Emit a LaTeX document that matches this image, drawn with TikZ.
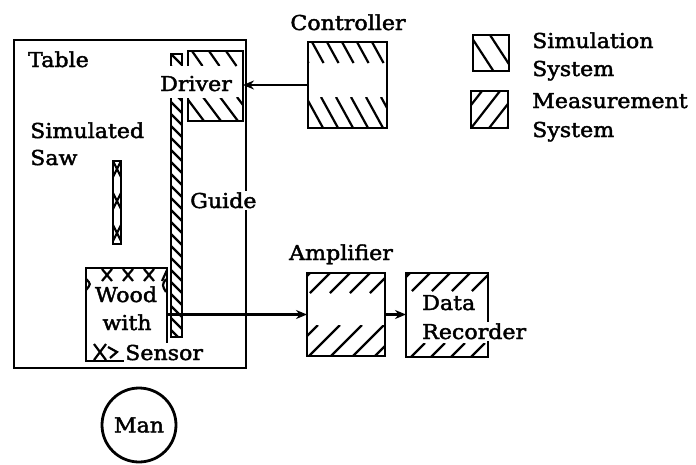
\documentclass[tikz,border=0pt]{standalone}
\usepackage{fontspec}
\setmainfont{DejaVu Serif}[FakeStretch=1.08,FakeBold=2]
\usetikzlibrary{arrows.meta}
\newcommand\myhatch[7]{%
  \begin{scope}
    \clip (#1,#2) rectangle (#3,#4);
    \foreach \k in {-30,...,30}
      \draw[hatchline] ({#7+\k*#6},#2) -- ++({#5*(#4-#2)},{#4-#2});
  \end{scope}}
\begin{document}
\begin{tikzpicture}[x=1pt,y=-1pt,
  box/.style={draw,line width=2.8pt,inner sep=0pt,outer sep=0pt},
  hatchline/.style={line width=2.2pt},
  lbl/.style={font=\fontsize{20.5}{24}\selectfont,inner sep=0pt},
  wlbl/.style={lbl,fill=white,inner sep=1.5pt},
  arr/.style={line width=2.2pt,-{Stealth[length=11pt,width=9pt]}}]
\useasboundingbox[fill=white] (0,0) rectangle (696,464);

% table
\node[box,minimum width=232pt,minimum height=328pt] (table) at (130,204) {};

% guide
\node[box,minimum width=11pt,minimum height=283pt] (guide) at (176.5,195.5) {};
\myhatch{171}{54}{182}{337}{1}{12}{171}

% driver
\node[box,minimum width=55pt,minimum height=70pt] (driver) at (215.5,86) {};
\myhatch{188}{51}{243}{66}{0.7}{17}{192}
\myhatch{188}{97}{243}{121}{0.75}{17}{186}

% simulated saw
\node[box,minimum width=8pt,minimum height=83pt] (saw) at (117,202.5) {};
\myhatch{113}{161}{121}{244}{0.5}{16}{113}
\myhatch{113}{161}{121}{244}{-0.5}{16}{121}

% wood
\node[box,minimum width=81pt,minimum height=93pt] (wood) at (126.5,314.5) {};
\foreach \cx in {107,128,149}
  \draw[hatchline] (\cx-5,269) -- (\cx+5,281) (\cx+5,269) -- (\cx-5,281);
\draw[hatchline] (162,281) -- (167,270);
\draw[hatchline] (86,279) .. controls (91,284) .. (86,290);
\draw[hatchline] (166,279) .. controls (162,285) .. (166,292);
\draw[hatchline] (94,344) -- (106,360) (106,344) -- (94,360);
\draw[hatchline] (108,347) -- (117,352) -- (110,358);

% controller
\node[box,minimum width=79pt,minimum height=86pt] (ctrl) at (347.5,85) {};
\myhatch{308}{42}{387}{63}{0.55}{15}{312}
\myhatch{308}{97}{387}{128}{0.55}{15}{306}

% amplifier
\node[box,minimum width=78pt,minimum height=83pt] (amp) at (346,314.5) {};
\myhatch{307}{273}{385}{293}{-1}{20}{330}
\myhatch{307}{325}{385}{356}{-1}{22}{340}

% data recorder
\node[box,minimum width=82pt,minimum height=84pt] (rec) at (447,315) {};
\myhatch{406}{273}{488}{291}{-1}{20}{430}
\myhatch{406}{343}{488}{357}{-1}{20}{425}

% legend
\node[box,minimum width=36pt,minimum height=36pt] (legS) at (491,53) {};
\myhatch{473}{35}{509}{71}{0.65}{20}{470}
\node[box,minimum width=37pt,minimum height=37pt] (legM) at (489.5,109.5) {};
\myhatch{471}{91}{508}{128}{-0.78}{18}{500}

% man
\node[box,lbl,circle,minimum size=74pt] (man) at (139,425) {Man};

% connectors
\draw[arr] (ctrl.west) -- (ctrl.west -| driver.east);
\draw[arr] (wood.east) -- (amp.west);
\draw[arr] (amp.east) -- (amp.east -| rec.west);

% labels
\node[lbl,anchor=base west] (tablelbl) at (28,67) {Table};
\node[lbl,anchor=base west] (simlbl) at (30,138) {Simulated};
\node[lbl,anchor=base west] (sawlbl) at (30,165) {Saw};
\node[wlbl,anchor=base,text height=24pt,text depth=5pt] (drvlbl) at (196,91) {Driver};
\node[wlbl,anchor=base west] (guidelbl) at (188.5,208) {Guide};
\node[lbl,anchor=base] (ctrllbl) at (348,30) {Controller};
\node[lbl,anchor=base west] (legSa) at (532,48) {Simulation};
\node[lbl,anchor=base west] (legSb) at (532,76) {System};
\node[lbl,anchor=base west] (legMa) at (532,108) {Measurement};
\node[lbl,anchor=base west] (legMb) at (532,137) {System};
\node[lbl,anchor=base] (amplbl) at (341,260) {Amplifier};
\node[wlbl,anchor=base west] (datalbl) at (420.5,310) {Data};
\node[wlbl,anchor=base west] (reclbl) at (420.5,339) {Recorder};
\node[lbl,anchor=base] (woodlbl) at (126,302) {Wood};
\node[lbl,anchor=base] (withlbl) at (127,330) {with};
\node[wlbl,anchor=base west] (senslbl) at (123.5,360) {Sensor};
\end{tikzpicture}
\end{document}
